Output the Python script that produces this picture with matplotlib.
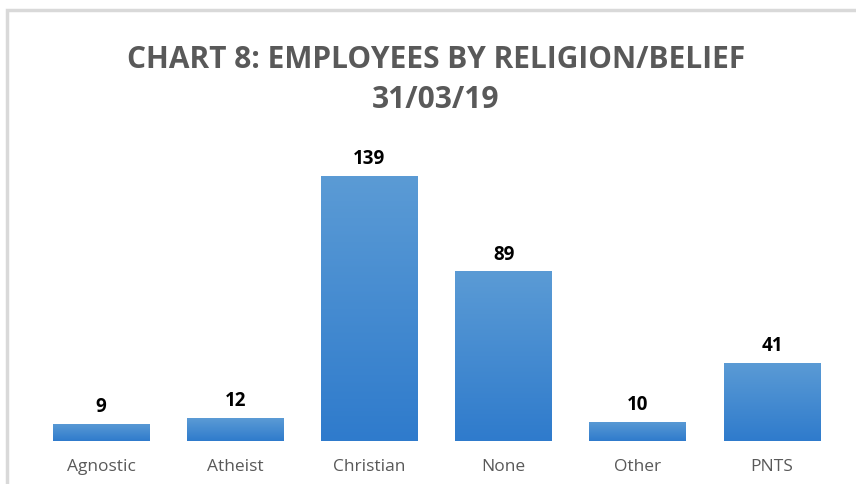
import numpy as np
import matplotlib
matplotlib.use("Agg")
import matplotlib.pyplot as plt
from matplotlib.colors import LinearSegmentedColormap
from matplotlib.patches import Rectangle

categories = ["Agnostic", "Atheist", "Christian", "None", "Other", "PNTS"]
counts = [9, 12, 139, 89, 10, 41]
title_lines = ["CHART 8: EMPLOYEES BY RELIGION/BELIEF", "31/03/19"]

plt.rcParams["font.family"] = ["Open Sans", "DejaVu Sans"]

fig = plt.figure(figsize=(8.56, 4.84), dpi=100)
fig.patch.set_facecolor("white")

# light frame around the chart area
frame = Rectangle((7.5 / 856, -0.1), 1.2, 1 - 10.5 / 484 + 0.1,
                  transform=fig.transFigure, fill=False,
                  edgecolor="#d9d9d9", linewidth=2.5, zorder=0)
fig.patches.append(frame)

ax = fig.add_axes([34 / 856, 1 - 441 / 484, (839 - 34) / 856, (441 - 136) / 484])
ax.set_xlim(-0.5, len(categories) - 0.5)
ax.set_ylim(0, 160)
for s in ax.spines.values():
    s.set_visible(False)
ax.set_yticks([])
ax.set_xticks(range(len(categories)))
ax.set_xticklabels(categories, fontsize=12.5, color="#595959")
ax.tick_params(axis="x", length=0, pad=13)

grad = LinearSegmentedColormap.from_list("bar", ["#2f7bcc", "#5b9bd5"])
bars = ax.bar(range(len(categories)), counts, width=0.72, color="none")
gradient = np.linspace(0, 1, 256).reshape(-1, 1)
for bar, val in zip(bars, counts):
    x0, w = bar.get_x(), bar.get_width()
    im = ax.imshow(gradient, cmap=grad, aspect="auto", origin="lower",
                   extent=(x0, x0 + w, 0, val), zorder=2)
    im.set_clip_path(bar)
    ax.text(x0 + w / 2, val + 3.5, str(val), ha="center", va="bottom",
            fontsize=13.5, fontweight="bold", color="#000000")
ax.set_xlim(-0.5, len(categories) - 0.5)
ax.set_ylim(0, 160)

fig.text(436 / 856, 1 - 60 / 484, title_lines[0], ha="center", va="center",
         fontsize=21.5, fontweight="bold", color="#595959")
fig.text(436 / 856, 1 - 100 / 484, title_lines[1], ha="center", va="center",
         fontsize=21.5, fontweight="bold", color="#595959")

fig.savefig("out.png", dpi=100, facecolor="white")
